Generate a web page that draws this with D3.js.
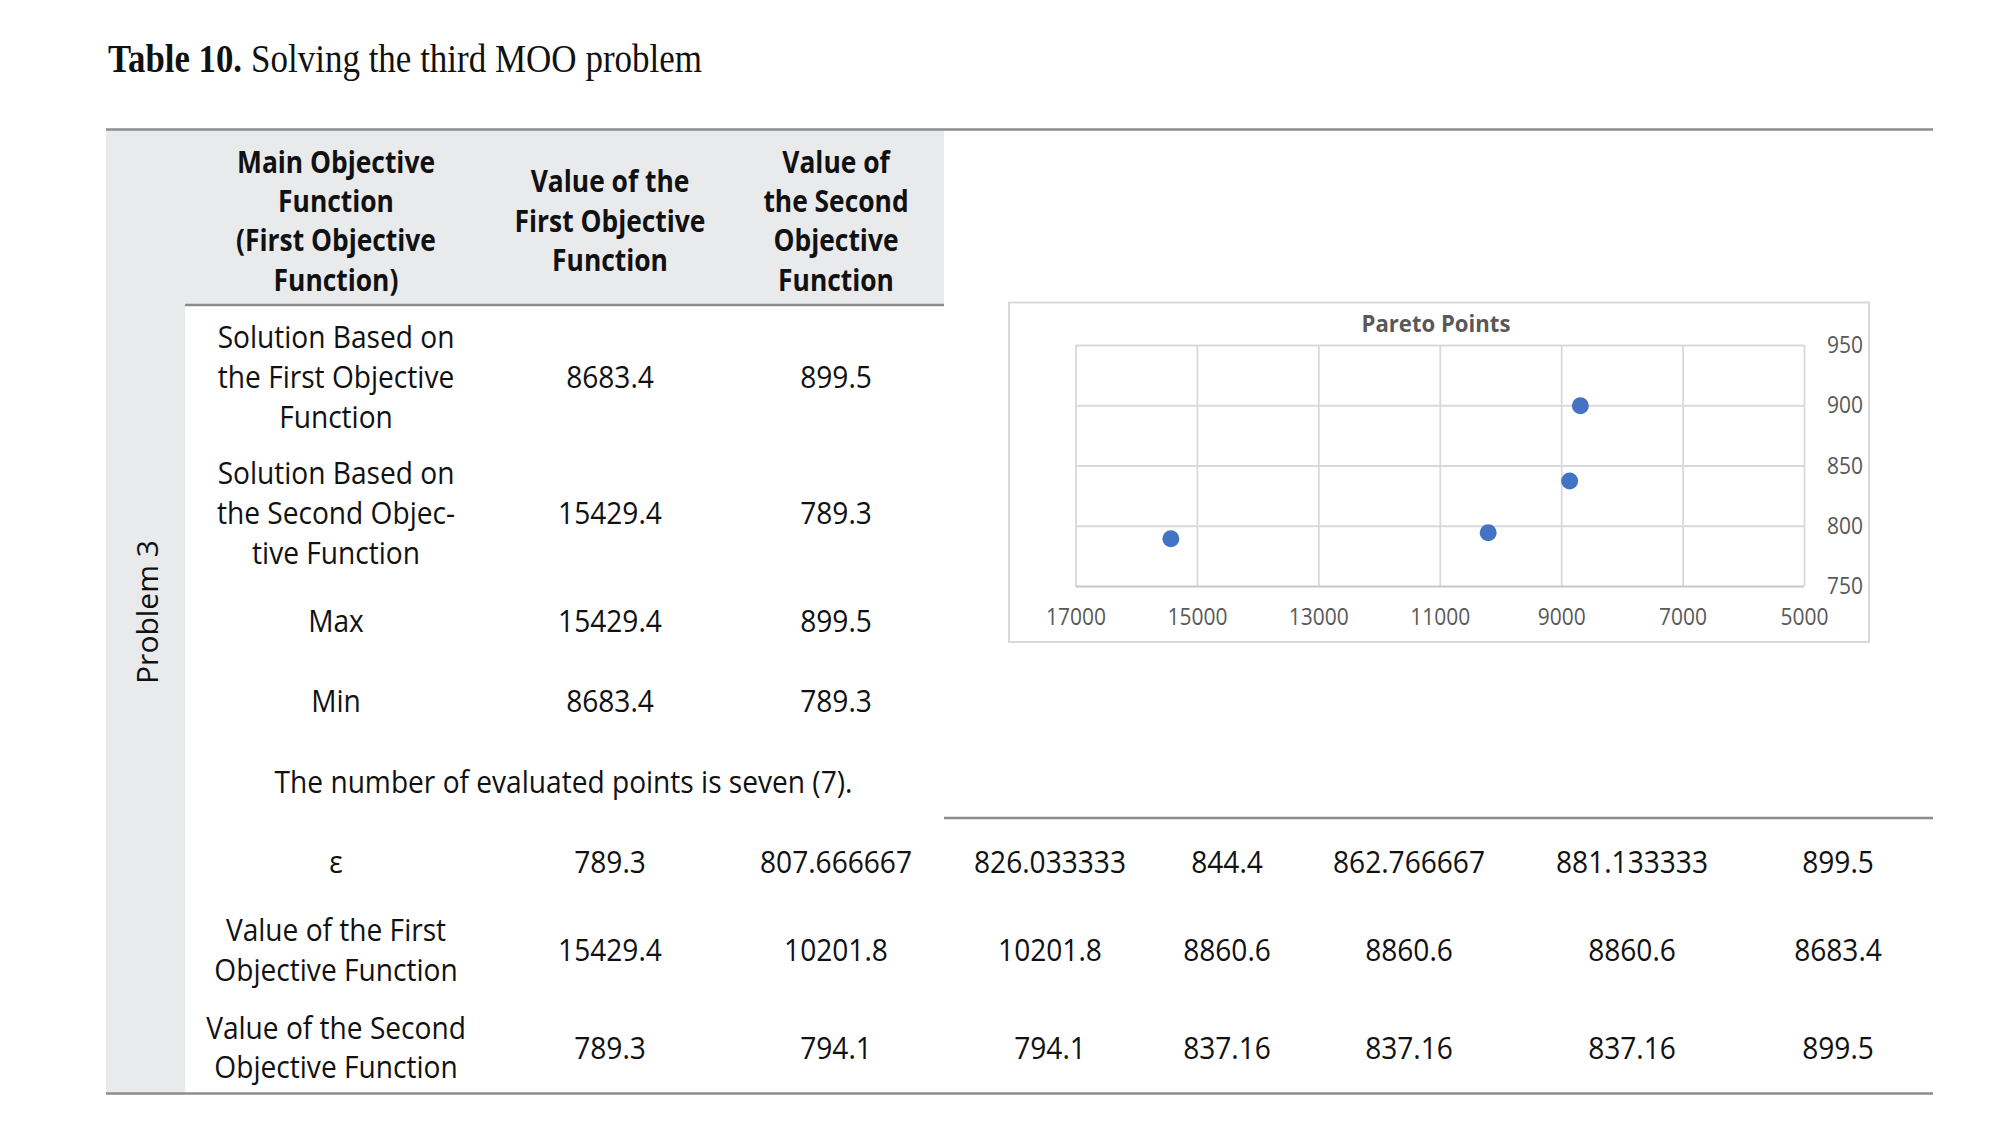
<!DOCTYPE html>
<html>
<head>
<meta charset="utf-8">
<script src="https://cdn.jsdelivr.net/npm/d3@7"></script>
<style>
  body { margin: 0; background: #fff; }
</style>
</head>
<body>
<script>
// ---- data ----
var tableTitleBold = "Table 10.";
var tableTitleRest = "Solving the third MOO problem";
var groupLabel = "Problem 3";
var headers = [
    ["Main Objective", "Function", "(First Objective", "Function)"],
    ["Value of the", "First Objective", "Function"],
    ["Value of", "the Second", "Objective", "Function"]
];
var rowLabels = [
    ["Solution Based on", "the First Objective", "Function"],
    ["Solution Based on", "the Second Objec-", "tive Function"],
    ["Max"],
    ["Min"]
];
var firstValues  = ["8683.4", "15429.4", "15429.4", "8683.4"];
var secondValues = ["899.5", "789.3", "899.5", "789.3"];
var noteText = "The number of evaluated points is seven (7).";
var epsLabels = [["ε"], ["Value of the First", "Objective Function"], ["Value of the Second", "Objective Function"]];
var epsilon   = ["789.3", "807.666667", "826.033333", "844.4", "862.766667", "881.133333", "899.5"];
var epsFirst  = ["15429.4", "10201.8", "10201.8", "8860.6", "8860.6", "8860.6", "8683.4"];
var epsSecond = ["789.3", "794.1", "794.1", "837.16", "837.16", "837.16", "899.5"];

var chartTitle = "Pareto Points";
var paretoX = [15429.4, 10201.8, 8860.6, 8683.4];
var paretoY = [789.3, 794.1, 837.16, 899.5];
var xTicks = [17000, 15000, 13000, 11000, 9000, 7000, 5000];
var yTicks = [750, 800, 850, 900, 950];

// ---- layout ----
var W = 2000, H = 1128;
var FONT = "'Open Sans', 'Noto Sans', sans-serif";
var SERIF = "'Liberation Serif', 'DejaVu Serif', serif";
var colX = [336, 610, 836, 1050, 1227, 1409, 1632, 1838];
var rowY = [377, 513, 620.5, 701];
var epsRowY = [861.5, 950, 1047.5];

var svg = d3.select("body").append("svg")
    .attr("width", W)
    .attr("height", H);

function measure(str, size, weight) {
    var t = svg.append("text")
        .attr("font-family", FONT)
        .attr("font-size", size)
        .attr("font-weight", weight)
        .text(str);
    var w = t.node().getComputedTextLength();
    t.remove();
    return w;
}
// squeeze the text horizontally so it has the narrow look of the original
var sxReg  = 578 / measure(noteText, 31, 400);
var sxBold = 191 / measure("First Objective", 31, 700);
var sxTick = 60 / measure("17000", 24, 400);
var sxCT   = 149 / measure(chartTitle, 24, 700);

function lines(g, x, y, arr, o) {
    o = o || {};
    var size = o.size || 31, lh = o.lh || 39.5, weight = o.weight || 400;
    var sx = o.sx || (weight >= 700 ? sxBold : sxReg);
    arr.forEach(function(s, i) {
        g.append("text")
            .attr("transform", "translate(" + x + "," + (y + (i - (arr.length - 1) / 2) * lh) + ") scale(" + sx + ",1)")
            .attr("text-anchor", o.anchor || "middle")
            .attr("dy", "0.36em")
            .attr("font-family", FONT)
            .attr("font-size", size)
            .attr("font-weight", weight)
            .attr("fill", o.fill || "#111")
            .text(s);
    });
}

// ---- title ----
svg.append("text")
    .attr("x", 108).attr("y", 72)
    .attr("font-family", SERIF)
    .attr("font-size", 39)
    .attr("font-weight", 700)
    .attr("fill", "#111")
    .attr("textLength", 134)
    .attr("lengthAdjust", "spacingAndGlyphs")
    .text(tableTitleBold);
svg.append("text")
    .attr("x", 251).attr("y", 72)
    .attr("font-family", SERIF)
    .attr("font-size", 39)
    .attr("fill", "#111")
    .attr("textLength", 451)
    .attr("lengthAdjust", "spacingAndGlyphs")
    .text(tableTitleRest);

// ---- table background ----
var band = "#e9eaec";
svg.append("rect").attr("x", 106).attr("y", 129.5).attr("width", 79).attr("height", 964).attr("fill", band);
svg.append("rect").attr("x", 185).attr("y", 129.5).attr("width", 759).attr("height", 175.5).attr("fill", band);

// rules
var ruleColor = "#8c8c8c";
function rule(x1, x2, y) {
    svg.append("line").attr("x1", x1).attr("x2", x2).attr("y1", y).attr("y2", y)
        .attr("stroke", ruleColor).attr("stroke-width", 2.5);
}
rule(106, 1933, 129.5);
rule(185, 944, 305);
rule(944, 1933, 818);
rule(106, 1933, 1093.5);

var tg = svg.append("g");

// group label (rotated)
tg.append("text")
    .attr("transform", "translate(147.5,612) rotate(-90)")
    .attr("text-anchor", "middle")
    .attr("dy", "0.36em")
    .attr("font-family", FONT)
    .attr("font-size", 30)
    .attr("fill", "#111")
    .text(groupLabel);

// header
headers.forEach(function(h, i) {
    lines(tg, colX[i], 220.5, h, { weight: 700, lh: 39.3 });
});

// upper rows
rowLabels.forEach(function(lbl, i) {
    lines(tg, colX[0], rowY[i], lbl, { lh: 40 });
    lines(tg, colX[1], rowY[i], [firstValues[i]]);
    lines(tg, colX[2], rowY[i], [secondValues[i]]);
});

lines(tg, 563.5, 782, [noteText]);

// epsilon rows
[epsilon, epsFirst, epsSecond].forEach(function(vals, r) {
    lines(tg, colX[0], epsRowY[r], epsLabels[r]);
    vals.forEach(function(v, j) {
        lines(tg, colX[j + 1], epsRowY[r], [v]);
    });
});

// ---- scatter chart ----
svg.append("rect")
    .attr("x", 1009).attr("y", 302.5)
    .attr("width", 860).attr("height", 339.5)
    .attr("fill", "#fff")
    .attr("stroke", "#d9d9d9")
    .attr("stroke-width", 2);

var x = d3.scaleLinear().domain([17000, 5000]).range([1075.5, 1804]);
var y = d3.scaleLinear().domain([750, 950]).range([586, 345]);
var grid = "#d9d9d9";

var gx = svg.append("g")
    .attr("transform", "translate(0," + y(750) + ")")
    .call(d3.axisBottom(x).tickValues(xTicks).tickSize(-(y(750) - y(950))).tickPadding(22).tickFormat(d3.format("d")));
gx.select(".domain").remove();
gx.selectAll("line").attr("stroke", grid).attr("stroke-width", 1.8);
gx.selectAll("text")
    .attr("font-family", FONT)
    .attr("font-size", 24)
    .attr("fill", "#595959")
    .attr("transform", "scale(" + sxTick + ",1)");

var gy = svg.append("g")
    .attr("transform", "translate(" + x(5000) + ",0)")
    .call(d3.axisRight(y).tickValues(yTicks).tickSize(-(x(5000) - x(17000))).tickPadding(23));
gy.select(".domain").remove();
gy.selectAll("line").attr("stroke", grid).attr("stroke-width", 1.8);
gy.selectAll(".tick").filter(function(d) { return d === 750; }).select("line").attr("stroke", "#c8c8c8").attr("stroke-width", 2.2);
gy.selectAll("text")
    .attr("font-family", FONT)
    .attr("font-size", 24)
    .attr("fill", "#595959")
    .attr("x", 23 / sxTick)
    .attr("transform", "scale(" + sxTick + ",1)");

svg.append("text")
    .attr("transform", "translate(1436,323) scale(" + sxCT + ",1)")
    .attr("text-anchor", "middle")
    .attr("dy", "0.36em")
    .attr("font-family", FONT)
    .attr("font-size", 24)
    .attr("font-weight", 700)
    .attr("fill", "#595959")
    .text(chartTitle);

svg.append("g").selectAll("circle")
    .data(paretoX)
    .enter()
    .append("circle")
    .attr("cx", function(d) { return x(d); })
    .attr("cy", function(d, i) { return y(paretoY[i]); })
    .attr("r", 8.5)
    .attr("fill", "#4472c4");
</script>
</body>
</html>
